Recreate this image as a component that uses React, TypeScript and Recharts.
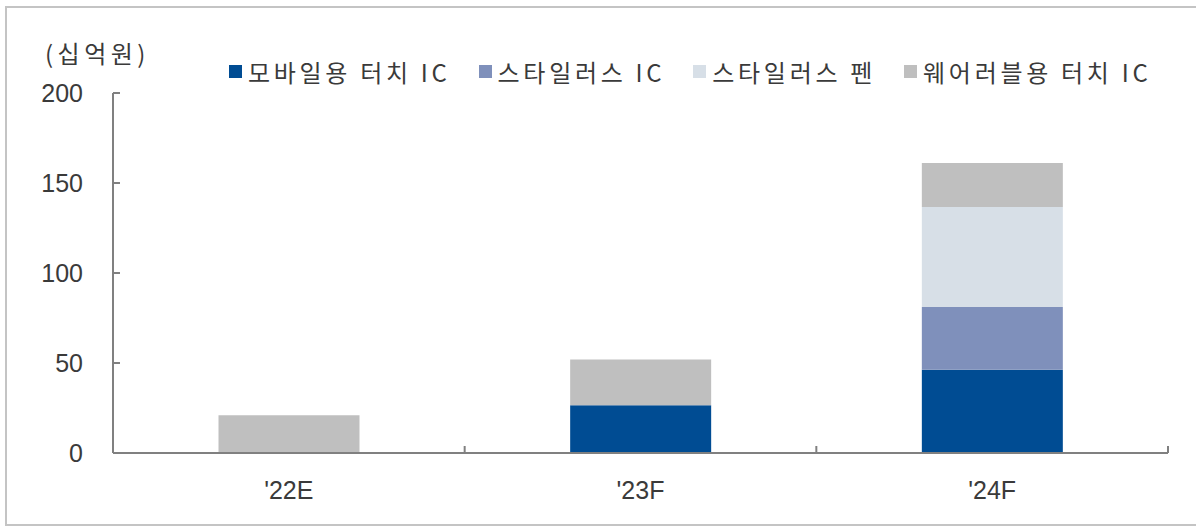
import React from 'react';
import { BarChart, Bar, XAxis, YAxis } from 'recharts';

const years = ["'22E", "'23F", "'24F"];
const mobileIC = [0, 26.5, 46.3];
const stylusIC = [0, 0, 34.8];
const stylusPen = [0, 0, 55.6];
const wearableIC = [21, 25.5, 24.4];
const yTicks = [0, 50, 100, 150, 200];

const series = [
  { key: 'mobile', name: '모바일용 터치 IC', color: '#004C93', values: mobileIC },
  { key: 'stylusIC', name: '스타일러스 IC', color: '#7F90BB', values: stylusIC },
  { key: 'pen', name: '스타일러스 펜', color: '#D7DFE7', values: stylusPen },
  { key: 'wearable', name: '웨어러블용 터치 IC', color: '#BFBFBF', values: wearableIC },
];

const data = years.map((year, i) => {
  const row: Record<string, string | number> = { year };
  series.forEach((s) => { row[s.key] = s.values[i]; });
  return row;
});

const AXIS = '#808080';
const TEXT = '#3a3a3a';
const NUM_FONT = "'Liberation Sans Narrow', 'Arial Narrow', 'Liberation Sans', Arial, sans-serif";
const KR_FONT = "'Noto Sans CJK KR', 'Liberation Sans', sans-serif";

function YTick(props: any) {
  const { x, y, payload } = props;
  return (
    <g>
      <line x1={x} x2={x + 7} y1={y} y2={y} stroke={AXIS} strokeWidth={2} />
      <text x={x - 30} y={y} textAnchor="end" dominantBaseline="central"
        fontFamily={NUM_FONT} fontSize={25} fill={TEXT}>{payload.value}</text>
    </g>
  );
}

function XTick(props: any) {
  const { x, y, payload, width } = props;
  const half = width / years.length / 2;
  return (
    <g>
      <line x1={x + half} x2={x + half} y1={y} y2={y - 7} stroke={AXIS} strokeWidth={2} />
      <text x={x} y={y + 37} textAnchor="middle" dominantBaseline="central"
        fontFamily={NUM_FONT} fontSize={25} fill={TEXT}>{payload.value}</text>
    </g>
  );
}

export default function App() {
  return (
    <div style={{ position: 'absolute', left: 0, top: 0, width: 1196, height: 529, background: '#fff', overflow: 'hidden' }}>
      <div style={{ position: 'absolute', left: 5, top: 6, width: 1200, height: 520, border: '2px solid #c4c4c4', boxSizing: 'border-box' }} />
      <div style={{ position: 'absolute', left: 45, top: 35, fontFamily: KR_FONT, fontSize: 24, color: TEXT, letterSpacing: 4.5 }}>
        (십억원)
      </div>
      <div style={{ position: 'absolute', left: 229, top: 54, display: 'flex', alignItems: 'center', fontFamily: KR_FONT, fontSize: 24, color: TEXT, letterSpacing: 3.7, whiteSpace: 'nowrap' }}>
        {series.map((s) => (
          <div key={s.key} style={{ display: 'flex', alignItems: 'center', marginRight: 28 }}>
            <span style={{ width: 13, height: 13, background: s.color, display: 'inline-block', marginRight: 6 }} />
            <span>{s.name}</span>
          </div>
        ))}
      </div>
      <BarChart width={1196} height={529} data={data} barCategoryGap="30%"
        margin={{ top: 93, right: 28, bottom: 36, left: 53 }}>
        <XAxis dataKey="year" height={40} stroke={AXIS} strokeWidth={2} tickLine={false}
          tickSize={0} tickMargin={0} tick={<XTick />} />
        <YAxis width={60} domain={[0, 200]} ticks={yTicks} stroke={AXIS} strokeWidth={2}
          tickLine={false} tickSize={0} tickMargin={0} tick={<YTick />} />
        {series.map((s) => (
          <Bar key={s.key} dataKey={s.key} name={s.name} stackId="a" fill={s.color} isAnimationActive={false} />
        ))}
      </BarChart>
    </div>
  );
}
